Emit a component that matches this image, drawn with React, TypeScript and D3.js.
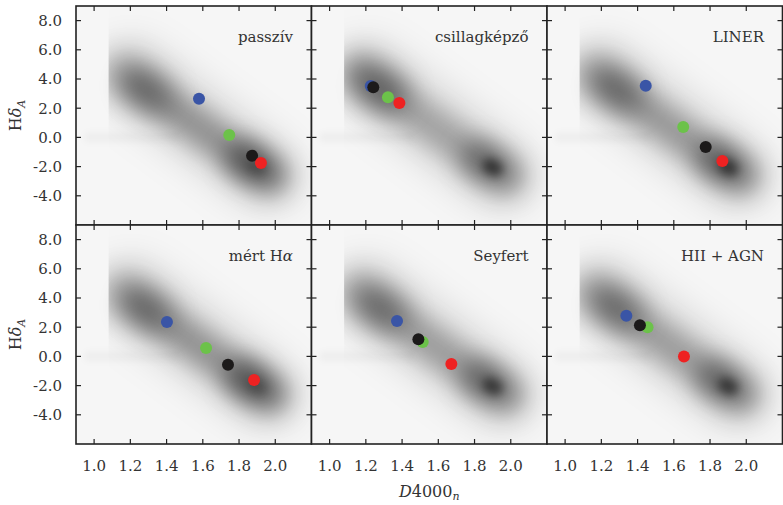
import React from "react";
import * as d3 from "d3";

// Panel titles, row by row (a trailing Greek letter is set in italic)
const PANEL_TITLES = ["passzív", "csillagképző", "LINER", "mért Hα", "Seyfert", "HII + AGN"];

// Group medians per panel (D4000_n, HδA)
const BLUE_D4000 = [1.579, 1.227, 1.445, 1.402, 1.372, 1.338];
const BLUE_HDA = [2.65, 3.52, 3.54, 2.36, 2.42, 2.79];
const GREEN_D4000 = [1.746, 1.322, 1.652, 1.618, 1.514, 1.455];
const GREEN_HDA = [0.16, 2.75, 0.71, 0.58, 0.99, 1.99];
const BLACK_D4000 = [1.872, 1.241, 1.776, 1.739, 1.49, 1.413];
const BLACK_HDA = [-1.25, 3.43, -0.66, -0.57, 1.17, 2.13];
const RED_D4000 = [1.921, 1.385, 1.868, 1.883, 1.672, 1.656];
const RED_HDA = [-1.75, 2.36, -1.62, -1.62, -0.52, 0.0];

const GROUP_COLORS = ["#3a55a6", "#6cc24a", "#1c1a1a", "#ee2222"];

// Axis ticks
const X_TICKS = [1.0, 1.2, 1.4, 1.6, 1.8, 2.0];
const Y_TICKS = [-4, -2, 0, 2, 4, 6, 8];
const X_DOMAIN = [0.9, 2.2];
const Y_DOMAIN = [-6, 9];

// Smoothed galaxy density: ridge segments in (D4000_n, HδA) with their spread in HδA units
const RIDGE_NAMES = ["halo", "bridge", "blueCloud", "redCloud", "redCore", "band"];
const RIDGE_X0 = [1.2, 1.25, 1.17, 1.83, 1.885, 0.97];
const RIDGE_Y0 = [4.3, 3.5, 4.3, -1.5, -1.95, 0.0];
const RIDGE_X1 = [1.95, 1.88, 1.32, 1.97, 1.915, 1.45];
const RIDGE_Y1 = [-2.6, -1.9, 3.0, -2.6, -2.15, 0.0];
const RIDGE_SPREAD = [2.1, 1.2, 1.4, 1.3, 0.5, 0.35];
// Relative density weight of each segment, per panel
const HALO_WEIGHT = [0.17, 0.17, 0.17, 0.17, 0.17, 0.17];
const BRIDGE_WEIGHT = [0.3, 0.22, 0.27, 0.3, 0.25, 0.25];
const BLUE_CLOUD_WEIGHT = [0.3, 0.42, 0.33, 0.3, 0.33, 0.33];
const RED_CLOUD_WEIGHT = [0.45, 0.38, 0.4, 0.45, 0.38, 0.38];
const RED_CORE_WEIGHT = [0.2, 0.55, 0.5, 0.2, 0.5, 0.5];
const BAND_WEIGHT = [0.03, 0.03, 0.03, 0.03, 0.03, 0.03];
const RIDGE_WEIGHTS = [HALO_WEIGHT, BRIDGE_WEIGHT, BLUE_CLOUD_WEIGHT, RED_CLOUD_WEIGHT, RED_CORE_WEIGHT, BAND_WEIGHT];
// Segments cut at the blue edge of the sample
const RIDGE_CLIPPED = [true, false, true, false, false, false];
const SAMPLE_EDGE_D4000 = 1.08;

const W = 783;
const H = 505;
const LEFT = 76;
const RIGHT = 782.5;
const TOP = 6;
const BOTTOM = 444;
const COLS = 3;
const ROWS = 2;
const PW = (RIGHT - LEFT) / COLS;
const PH = (BOTTOM - TOP) / ROWS;
const FONT = "'DejaVu Serif', serif";
const TEXT_COLOR = "#333";
const FRAME_COLOR = "#222";
const TICK_LEN = 5;

function Title({ text }: { text: string }) {
  const m = text.match(/^(.*?)([α-ω])$/);
  if (!m) return <>{text}</>;
  return (
    <>
      {m[1]}
      <tspan fontStyle="italic">{m[2]}</tspan>
    </>
  );
}

export default function App() {
  const x = d3.scaleLinear().domain(X_DOMAIN).range([0, PW]);
  const y = d3.scaleLinear().domain(Y_DOMAIN).range([PH, 0]);
  const yUnit = Math.abs(y(1) - y(0));

  const groups = [
    { xs: BLUE_D4000, ys: BLUE_HDA, color: GROUP_COLORS[0] },
    { xs: GREEN_D4000, ys: GREEN_HDA, color: GROUP_COLORS[1] },
    { xs: BLACK_D4000, ys: BLACK_HDA, color: GROUP_COLORS[2] },
    { xs: RED_D4000, ys: RED_HDA, color: GROUP_COLORS[3] },
  ];

  return (
    <svg width={W} height={H} style={{ display: "block", position: "absolute", left: 0, top: 0 }}>
      <rect width={W} height={H} fill="#fff" />
      <defs>
        <clipPath id="panelClip" clipPathUnits="userSpaceOnUse">
          <rect x={0} y={0} width={PW} height={PH} />
        </clipPath>
        <clipPath id="edgeClip" clipPathUnits="userSpaceOnUse">
          <rect x={x(SAMPLE_EDGE_D4000)} y={0} width={PW} height={PH} />
        </clipPath>
        {RIDGE_NAMES.map((name, i) => (
          <filter
            key={name}
            id={`blur-${name}`}
            filterUnits="userSpaceOnUse"
            x={-100}
            y={-100}
            width={PW + 200}
            height={PH + 200}
          >
            <feGaussianBlur stdDeviation={RIDGE_SPREAD[i] * yUnit * 0.65} />
          </filter>
        ))}
      </defs>

      {PANEL_TITLES.map((title, p) => {
        const col = p % COLS;
        const row = Math.floor(p / COLS);
        const ox = LEFT + col * PW;
        const oy = TOP + row * PH;
        return (
          <g key={title} transform={`translate(${ox},${oy})`}>
            <g clipPath="url(#panelClip)">
              <rect width={PW} height={PH} fill="#f6f6f6" />
              {RIDGE_NAMES.map((name, i) => {
                const line = (
                  <line
                    x1={x(RIDGE_X0[i])}
                    y1={y(RIDGE_Y0[i])}
                    x2={x(RIDGE_X1[i])}
                    y2={y(RIDGE_Y1[i])}
                    stroke="#000"
                    strokeOpacity={RIDGE_WEIGHTS[i][p]}
                    strokeWidth={2 * RIDGE_SPREAD[i] * yUnit}
                    strokeLinecap="round"
                    filter={`url(#blur-${name})`}
                  />
                );
                return RIDGE_CLIPPED[i] ? (
                  <g key={name} clipPath="url(#edgeClip)">
                    {line}
                  </g>
                ) : (
                  <g key={name}>{line}</g>
                );
              })}
              {groups.map((g, gi) => (
                <circle key={gi} cx={x(g.xs[p])} cy={y(g.ys[p])} r={6} fill={g.color} />
              ))}
            </g>

            {/* inward ticks on all four sides */}
            {X_TICKS.map((t) => (
              <g key={`xt${t}`} stroke={FRAME_COLOR} strokeWidth={1.2}>
                <line x1={x(t)} x2={x(t)} y1={PH} y2={PH - TICK_LEN} />
                <line x1={x(t)} x2={x(t)} y1={0} y2={TICK_LEN} />
              </g>
            ))}
            {Y_TICKS.map((t) => (
              <g key={`yt${t}`} stroke={FRAME_COLOR} strokeWidth={1.2}>
                <line x1={0} x2={TICK_LEN} y1={y(t)} y2={y(t)} />
                <line x1={PW} x2={PW - TICK_LEN} y1={y(t)} y2={y(t)} />
              </g>
            ))}
            <rect width={PW} height={PH} fill="none" stroke={FRAME_COLOR} strokeWidth={1.6} />

            <text
              x={PW - 18.5}
              y={36}
              textAnchor="end"
              fontFamily={FONT}
              fontSize={15}
              fill={TEXT_COLOR}
            >
              <Title text={title} />
            </text>

            {col === 0 &&
              Y_TICKS.map((t) => (
                <text
                  key={`yl${t}`}
                  x={-14}
                  y={y(t)}
                  dy="0.36em"
                  textAnchor="end"
                  fontFamily={FONT}
                  fontSize={15}
                  fill={TEXT_COLOR}
                >
                  {d3.format(".1f")(t).replace("−", "-")}
                </text>
              ))}
            {row === ROWS - 1 &&
              X_TICKS.map((t) => (
                <text
                  key={`xl${t}`}
                  x={x(t)}
                  y={PH + 27}
                  textAnchor="middle"
                  fontFamily={FONT}
                  fontSize={15}
                  fill={TEXT_COLOR}
                >
                  {d3.format(".1f")(t)}
                </text>
              ))}
            {col === 0 && (
              <text
                transform={`translate(${-55},${PH / 2}) rotate(-90)`}
                textAnchor="middle"
                fontFamily={FONT}
                fontSize={16}
                fill={TEXT_COLOR}
              >
                H<tspan fontStyle="italic">δ</tspan>
                <tspan fontStyle="italic" fontSize={11} dy={4}>
                  A
                </tspan>
              </text>
            )}
          </g>
        );
      })}

      <text
        x={(LEFT + RIGHT) / 2}
        y={497}
        textAnchor="middle"
        fontFamily={FONT}
        fontSize={16}
        fill={TEXT_COLOR}
      >
        <tspan fontStyle="italic">D</tspan>4000
        <tspan fontStyle="italic" fontSize={11} dy={3}>
          n
        </tspan>
      </text>
    </svg>
  );
}
